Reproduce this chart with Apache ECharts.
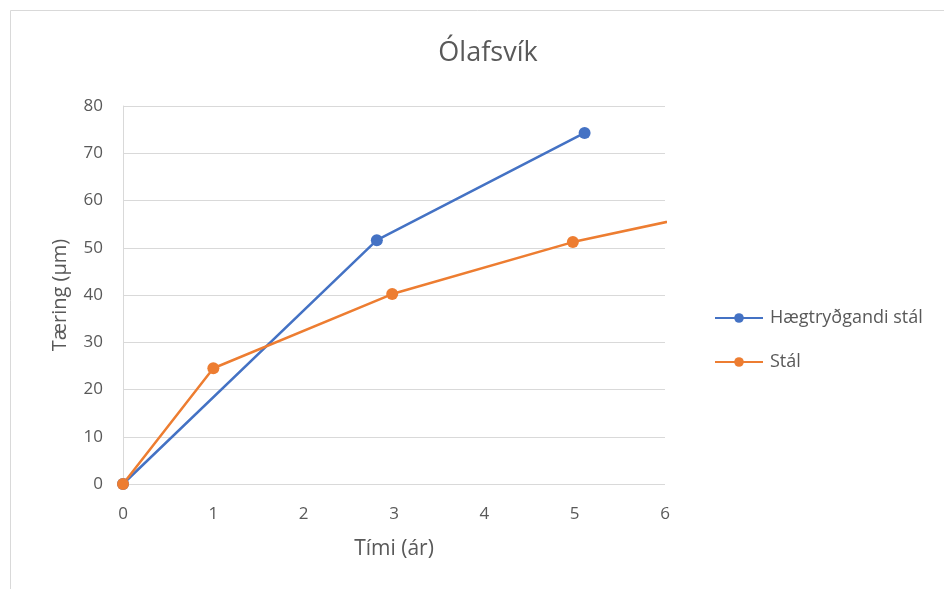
<!DOCTYPE html>
<html>
<head>
<meta charset="utf-8">
<script src="https://cdn.jsdelivr.net/npm/echarts@6/dist/echarts.min.js"></script>
<style>
  html, body { margin: 0; padding: 0; background: #fff; }
  #chart { width: 944px; height: 589px; }
</style>
</head>
<body>
<div id="chart"></div>
<script>
// Data
var slowSteelX = [0, 2.81, 5.11];
var slowSteelY = [0, 51.6, 74.3];
var steelX = [0, 1, 2.98, 4.98, 7];
var steelY = [0, 24.5, 40.2, 51.2, 59.5];
var seriesNames = ['Hægtryðgandi stál', 'Stál'];

function pairs(xs, ys) {
  return xs.map(function (x, i) { return [x, ys[i]]; });
}

var chart = echarts.init(document.getElementById('chart'));
var textColor = '#595959';
var font = '"Open Sans", "Noto Sans", sans-serif';

var option = {
  backgroundColor: '#fff',
  animation: false,
  textStyle: { fontFamily: font },
  graphic: [{
    type: 'rect',
    shape: { x: 10.5, y: 10.5, width: 960, height: 600 },
    style: { fill: 'none', stroke: '#d9d9d9', lineWidth: 1 },
    silent: true
  }],
  title: {
    text: 'Ólafsvík',
    left: 483, top: 35,
    textAlign: 'center',
    textStyle: { color: textColor, fontSize: 27, fontWeight: 'normal', fontFamily: font }
  },
  legend: {
    orient: 'vertical',
    left: 709, top: 304,
    itemGap: 26,
    itemWidth: 48, itemHeight: 12,
    textStyle: { color: textColor, fontSize: 18, fontFamily: font, padding: [0, 0, 0, 2] },
    data: seriesNames
  },
  grid: { left: 123, right: 279, top: 106, bottom: 105, containLabel: false },
  xAxis: {
    type: 'value',
    min: 0, max: 6, interval: 1,
    name: 'Tími (ár)',
    nameLocation: 'middle',
    nameGap: 55,
    nameTextStyle: { color: textColor, fontSize: 21, fontFamily: font },
    axisLine: { show: false },
    axisTick: { show: false },
    axisLabel: { color: textColor, fontSize: 17, margin: 22, fontFamily: font },
    splitLine: { show: false }
  },
  yAxis: {
    type: 'value',
    min: 0, max: 80, interval: 10,
    name: 'Tæring (µm)',
    nameLocation: 'middle',
    nameGap: 53,
    nameTextStyle: { color: textColor, fontSize: 20, fontFamily: font },
    axisLine: { show: true, lineStyle: { color: '#d9d9d9' } },
    axisTick: { show: false },
    axisLabel: { color: textColor, fontSize: 17, margin: 20, fontFamily: font },
    splitLine: { show: true, lineStyle: { color: '#d9d9d9' } }
  },
  series: [{
    name: seriesNames[0],
    type: 'line',
    data: pairs(slowSteelX, slowSteelY),
    symbol: 'circle', symbolSize: 12,
    clip: true,
    itemStyle: { color: '#4472c4' },
    lineStyle: { color: '#4472c4', width: 2.5 }
  }, {
    name: seriesNames[1],
    type: 'line',
    data: pairs(steelX, steelY),
    symbol: 'circle', symbolSize: 12,
    clip: true,
    itemStyle: { color: '#ed7d31' },
    lineStyle: { color: '#ed7d31', width: 2.5 }
  }]
};

chart.setOption(option);

window.addEventListener('resize', function () {
  chart.resize();
});
</script>
</body>
</html>
